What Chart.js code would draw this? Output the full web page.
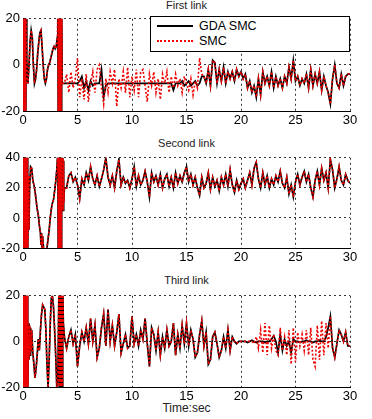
<!DOCTYPE html>
<html>
<head>
<meta charset="utf-8">
<script src="https://cdn.jsdelivr.net/npm/chart.js@4.4.0/dist/chart.umd.min.js"></script>
<style>
    body { margin: 0; background: #fff; width: 372px; height: 419px; position: relative; overflow: hidden;
           font-family: "Liberation Sans", Arial, sans-serif; color: #000; }
    canvas { position: absolute; left: 0; }
    .title { position: absolute; left: 23px; width: 327px; text-align: center; font-size: 11px; line-height: 12px;
             font-weight: 400; color: #222; }
    #legend { position: absolute; left: 150px; top: 16px; width: 200px; height: 36px; box-sizing: border-box;
              border: 1px solid #000; background: #fff; z-index: 5; }
    #legend .sample { position: absolute; left: 6px; width: 36px; height: 0; }
    #legend .label { position: absolute; left: 48px; font-size: 12.5px; line-height: 14px; }
</style>
</head>
<body>
<div class="title" style="top:-1px">First link</div>
<div class="title" style="top:137px">Second link</div>
<div class="title" style="top:274px">Third link</div>
<div class="title" style="top:402px; font-size:12px">Time:sec</div>

<div id="legend">
    <div class="sample" style="top:8px; border-top:2px solid #000"></div>
    <div class="label" style="top:2px">GDA SMC</div>
    <div class="sample" style="top:23px; border-top:2px dotted #ff0000"></div>
    <div class="label" style="top:17px">SMC</div>
</div>

<canvas id="link1Chart" width="372" height="119" style="top:8px"></canvas>
<canvas id="link2Chart" width="372" height="117" style="top:147px"></canvas>
<canvas id="link3Chart" width="372" height="118" style="top:285px"></canvas>

<script>
// Time grid (seconds) used after the start-up transient, 4.0 .. 30.0
function timeGrid(start, end, step) {
    const n = Math.round((end - start) / step);
    const out = [];
    for (let i = 0; i <= n; i++) out.push(Math.round((start + i * step) * 100) / 100);
    return out;
}
const tMain = timeGrid(4.0, 30.0, 0.2);

// ---- First link ----
const t1Early = [0, 0.03, 0.06, 0.09, 0.12, 0.15, 0.18, 0.21, 0.24, 0.27, 0.3,
    0.35, 0.45, 0.55, 0.65, 0.75, 0.85, 0.95, 1.05, 1.15,
    1.25, 1.35, 1.45, 1.55, 1.65, 1.75, 1.85, 1.95, 2.05, 2.15, 2.25, 2.35, 2.45, 2.55, 2.65, 2.75, 2.85, 2.95, 3.05, 3.15,
    3.2, 3.23, 3.26, 3.29, 3.32, 3.35, 3.38, 3.41, 3.44, 3.47, 3.5, 3.53, 3.56,
    3.6, 3.7, 3.8];
const link1Early = [25, -25, 25, -25, 25, -25, 25, -25, 25, -25, 20,
    2, -8, 0, 10, 15, 12, 0, -8, -6,
    -2, 5, 10, 14, 15, 8, 0, -6, -8, -6, -2, 0, 1, 3, 5, 7, 8, 7, 8, 12,
    25, -25, 25, -25, 25, -25, 25, -25, 25, -25, 25, -25, 25,
    -8, -8, -8];
// 4.0 .. 16.4 s, where the two controllers differ
const gda1Mid = [-8, -8, -8, -8, -8, -8, -7, -5, -10, -7,
    -11, -7, -9, -8, -8, -8, -2, -14, -9, -8,
    -8, -8, -8, -8, -8, -8, -8, -8, -8, -8,
    -8, -8, -8, -8, -8, -8, -8, -8, -8, -8,
    -8, -8, -8, -8, -8, -8, -8, -8, -8, -11,
    -8, -8, -8, -7, -9, -8, -7, -9, -8, -7,
    -9, -8, -5];
const smc1Mid = [-4, -12, -3, -10, -6, 3, -14, -6, -15, -4,
    -16, -8, -3, -12, -2, 0, -10, -17, -6, -12,
    -3, -8, -2, -18, -6, -10, -3, -12, -1, -14,
    -5, -11, -2, -14, -3, -2, -9, -16, -4, -9,
    -3, -12, -6, -15, -4, -8, -3, -12, -5, -10,
    -4, -9, -6, -12, -5, -8, -11, -6, -13, -7,
    -10, 3, -4];
// 16.6 .. 30.0 s, both curves together
const link1Late = [-5, -8, -2, -9, 2, 1, -8, -2, -7, -1,
    -8, -3, -6, -3, -7, -2, -5, -3, -6, -4,
    -10, -7, -12, -9, -14, -6, -13, -3, -8, -5,
    -9, -3, -10, -5, -9, -6, -10, -5, -8, -1,
    -6, 2, -7, -5, -9, -6, -8, -4, -10, -2,
    -9, -4, -8, -3, -11, -5, -9, -12, -17, -6,
    0, -8, -10, -4, -9, -5, -4, -4];

// ---- Second link ----
const t2Early = [0, 0.03, 0.06, 0.09, 0.12, 0.15, 0.18, 0.21, 0.24, 0.27, 0.3, 0.33, 0.36, 0.39, 0.42, 0.45,
    0.5, 0.55, 0.6, 0.7, 0.8, 0.9, 1.0, 1.1, 1.2, 1.3, 1.4, 1.5, 1.6, 1.65, 1.7, 1.75, 1.8,
    1.9, 2.0, 2.1, 2.2, 2.3, 2.4, 2.5, 2.6, 2.7, 2.8, 2.9, 3.0, 3.1,
    3.2, 3.23, 3.26, 3.29, 3.32, 3.35, 3.38, 3.41, 3.44, 3.47, 3.5, 3.53, 3.56,
    3.6, 3.63, 3.66, 3.69, 3.72, 3.75, 3.8];
const link2Early = [45, -25, 45, -25, 45, -25, 45, -25, 45, -25, 45, -25, 45, -25, 45, -25,
    28, -8, 20, 34, 33, 25, 22, 18, 12, 6, 2, -5, -10, -18, -10, -20, -12,
    -22, -25, -24, -20, -14, -8, 0, 6, 10, 12, 18, 24, 32,
    45, -25, 45, -25, 45, -25, 45, -25, 45, -25, 45, -25, 45,
    40, 5, 40, 5, 38, 10, 20];
const link2Main = [20, 28, 30, 24, 27, 22, 13, 26, 22, 30,
    25, 34, 26, 22, 28, 21, 26, 32, 40, 27,
    22, 28, 20, 31, 39, 22, 27, 23, 25, 20,
    26, 34, 21, 28, 22, 25, 31, 24, 14, 30,
    24, 28, 22, 29, 20, 26, 29, 21, 27, 20,
    30, 23, 28, 24, 30, 34, 24, 29, 22, 27,
    20, 15, 27, 20, 23, 30, 19, 27, 21, 25,
    18, 27, 22, 29, 21, 32, 22, 17, 25, 19,
    23, 26, 20, 25, 30, 22, 33, 37, 26, 20,
    30, 22, 28, 20, 26, 22, 28, 24, 31, 23,
    20, 27, 16, 22, 14, 24, 29, 22, 27, 31,
    24, 29, 20, 14, 25, 31, 22, 33, 25, 30,
    20, 39, 32, 20, 26, 34, 25, 22, 29, 25,
    23];

// ---- Third link ----
const t3Early = [0, 0.03, 0.06, 0.09, 0.12, 0.15, 0.18, 0.21, 0.24, 0.27, 0.3, 0.33, 0.36, 0.39, 0.42, 0.45,
    0.5, 0.55, 0.6, 0.65, 0.7, 0.75, 0.8,
    0.9, 1.0, 1.1, 1.2, 1.3, 1.4, 1.5, 1.6, 1.7, 1.8, 1.9, 2.0, 2.1, 2.2, 2.3, 2.4, 2.5, 2.6, 2.7, 2.8, 2.9, 3.0, 3.1, 3.2,
    3.3, 3.33, 3.36, 3.39, 3.42, 3.45, 3.48, 3.51, 3.54, 3.57, 3.6, 3.63, 3.66,
    3.7, 3.8];
const link3Early = [25, -25, 25, -25, 25, -25, 25, -25, 25, -25, 25, -25, 25, -25, 25, -25,
    8, -8, 7, -6, 6, -4, 5,
    -5, -10, -16, -12, -6, 1, -4, 5, 12, 16, 15, 14, 5, -10, -20, -8, 8, 19, 20, 15, 5, -6, -20, -16,
    25, -25, 25, -25, 25, -25, 25, -25, 25, -25, 25, -25, 25,
    8, 2];
// 4.0 .. 20.0 s, both curves together
const link3Mid = [-3, 2, 5, -1, 3, -11, -2, 4, 0, 6,
    -1, 10, 0, 7, -7, -3, 6, 12, -2, 14,
    0, 7, -2, 4, 12, -5, -1, 3, -3, -2,
    11, -1, 3, -2, 5, 1, 10, -1, -11, 6,
    3, -4, 4, -6, 2, -3, 5, -2, 0, 8,
    -6, 3, -3, 7, -1, 8, -2, 5, 1, -7,
    -5, 3, 9, -2, 4, -10, -8, 2, 4, -1,
    -7, -4, 2, -3, 5, -4, 2, 0, -1, 0,
    0];
// 20.2 .. 30.0 s, where the two controllers differ
const gda3Tail = [0, 0, -0.5, 0, 0.5, 0, -0.5, 0, 0, 0,
    -0.5, 0, 0, 1, 2.5, 0, -5, 3, -4, 1,
    -2, 0, -5, 1, 0, 0, -0.5, 0, 0, 0.5,
    0, 0, -0.5, 0, 0, 0.5, 0, 0, 2, 6,
    11, -3, -7, -1, 5, 3, 0, 4, -2, -2];
const smc3Tail = [0, 0, 0, 0, 0, -1, 2, -3, 5, -5,
    8, -6, 7, -3, 3, -4, -6, 6, -4, 2,
    -6, 5, -10, 6, -9, 4, -2, 3, -4, 5,
    -6, 6, -8, -11, 7, -8, 9, -6, 8, -3,
    11, -3, -7, -1, 5, 3, 0, 4, -2, -2];

// Join time and value arrays into {x, y} points
function toPoints(times, values) {
    return times.map((t, i) => ({ x: t, y: values[i] }));
}

const tickFont = { family: '"Liberation Sans", Arial, sans-serif', size: 13 };

// Build one MATLAB-like subplot
function makeChart(canvasId, times, gdaValues, smcValues, yMin, yMax) {
    const ctx = document.getElementById(canvasId).getContext('2d');
    return new Chart(ctx, {
        type: 'line',
        data: {
            datasets: [{
                label: 'GDA SMC',
                data: toPoints(times, gdaValues),
                borderColor: '#000000',
                borderWidth: 1.7,
                pointRadius: 0,
                order: 1, // drawn below the red curve
            }, {
                label: 'SMC',
                data: toPoints(times, smcValues),
                borderColor: '#ee0000',
                borderWidth: 1.6,
                borderDash: [2, 2],
                pointRadius: 0,
                order: 0,
            }],
        },
        options: {
            responsive: false,
            animation: false,
            layout: { padding: { top: 8, right: 22, left: 0, bottom: 0 } },
            plugins: { legend: { display: false }, tooltip: { enabled: false } },
            scales: {
                x: {
                    type: 'linear',
                    min: 0,
                    max: 30,
                    ticks: { stepSize: 5, color: '#000', font: tickFont, padding: 2, maxRotation: 0 },
                    grid: { color: '#333', lineWidth: 1, drawTicks: false },
                    border: { color: '#000', width: 1, dash: [2, 3] },
                    afterFit: (scale) => { scale.height = 16; },
                },
                y: {
                    min: yMin,
                    max: yMax,
                    ticks: { stepSize: 20, color: '#000', font: tickFont, padding: 3 },
                    grid: { color: '#333', lineWidth: 1, drawTicks: false },
                    border: { color: '#000', width: 1, dash: [2, 3] },
                    afterFit: (scale) => { scale.width = 23; },
                },
            },
        },
    });
}

// First link
const t1 = t1Early.concat(tMain);
makeChart('link1Chart', t1,
    link1Early.concat(gda1Mid, link1Late),
    link1Early.concat(smc1Mid, link1Late), -20, 20);

// Second link
const t2 = t2Early.concat(tMain);
makeChart('link2Chart', t2,
    link2Early.concat(link2Main),
    link2Early.concat(link2Main), -20, 40);

// Third link
const t3 = t3Early.concat(tMain);
makeChart('link3Chart', t3,
    link3Early.concat(link3Mid, gda3Tail),
    link3Early.concat(link3Mid, smc3Tail), -20, 20);
</script>
</body>
</html>
